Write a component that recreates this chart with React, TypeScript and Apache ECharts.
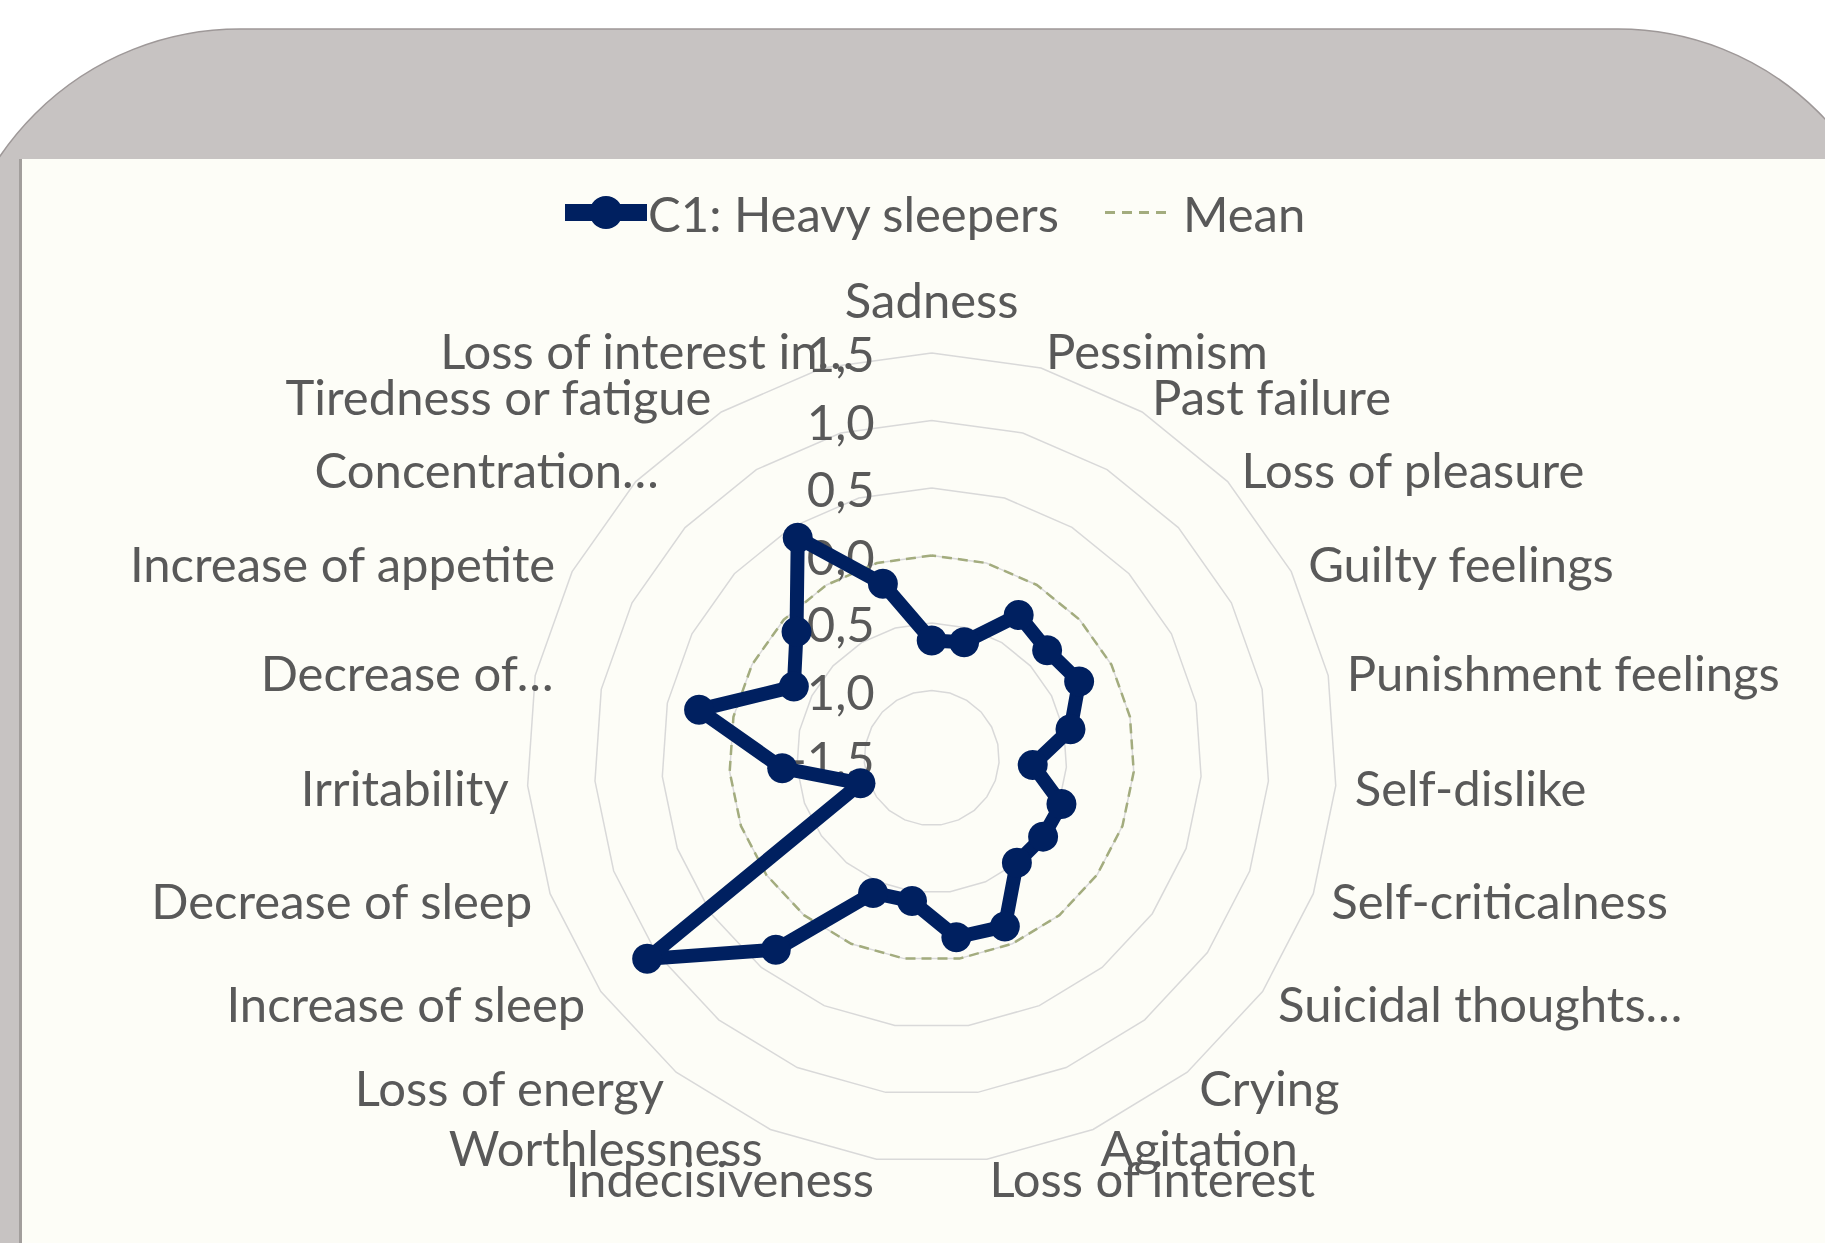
import React, { useEffect, useRef } from 'react';
import * as echarts from 'echarts';

const categories = [
  'Sadness',
  'Pessimism',
  'Past failure',
  'Loss of pleasure',
  'Guilty feelings',
  'Punishment feelings',
  'Self-dislike',
  'Self-criticalness',
  'Suicidal thoughts…',
  'Crying',
  'Agitation',
  'Loss of interest',
  'Indecisiveness',
  'Worthlessness',
  'Loss of energy',
  'Increase of sleep',
  'Decrease of sleep',
  'Irritability',
  'Decrease of…',
  'Increase of appetite',
  'Concentration…',
  'Tiredness or fatigue',
  'Loss of interest in…',
];

const heavySleepers = [
  -0.63, -0.61, -0.26, -0.33, -0.27, -0.45, -0.75, -0.48, -0.49, -0.5, -0.14, -0.16,
  -0.43, -0.41, 0.33, 1.08, -0.94, -0.39, 0.26, -0.35, -0.13, 0.41, -0.16,
];

const meanValues = [
  0, 0, 0, 0, 0, 0, 0, 0, 0, 0, 0, 0, 0, 0, 0, 0, 0, 0, 0, 0, 0, 0, 0,
];

const seriesNames = ['C1: Heavy sleepers', 'Mean'];
const axisMin = -1.5;
const axisMax = 1.5;
const splitCount = 6;

// labels whose ellipsis hangs past the anchor in the original layout
const shiftedLabels = ['Decrease of…', 'Concentration…', 'Loss of interest in…'];

export default function App() {
  const ref = useRef<HTMLDivElement>(null);

  useEffect(() => {
    document.body.style.margin = '0';
    const chart = echarts.init(ref.current as HTMLDivElement, null, { renderer: 'svg' });
    const font = 'Lato';
    const textColor = '#595959';
    const navy = '#002060';
    const olive = '#A3AC7E';

    // ECharts lays radar indicators out counter-clockwise; reorder to get clockwise
    const order = [0, ...categories.map((_, i) => i).slice(1).reverse()];

    const indicator = order.map((i, k) => {
      const ind: any = { name: categories[i], min: axisMin, max: axisMax };
      if (k === 0) {
        ind.axisLabel = { show: true, margin: 57, showMinLabel: true, showMaxLabel: true };
        ind.nameGap = 30;
      }
      if (shiftedLabels.indexOf(categories[i]) >= 0) {
        ind.nameTextStyle = { padding: [0, -37, 0, 0] };
      }
      return ind;
    });

    const textStyle = { color: textColor, fontSize: 49, fontFamily: font };

    chart.setOption({
      animation: false,
      backgroundColor: '#FFFFFF',
      graphic: {
        elements: [
          {
            type: 'rect',
            silent: true,
            z: -10,
            shape: { x: -50, y: 29, width: 1951, height: 1300, r: [290, 283, 0, 0] },
            style: { fill: '#C7C3C2', stroke: '#9E9898', lineWidth: 1.5 },
          },
          {
            type: 'rect',
            silent: true,
            z: -9,
            shape: { x: 19, y: 159, width: 5, height: 1100 },
            style: { fill: '#A29E9C' },
          },
          {
            type: 'rect',
            silent: true,
            z: -8,
            shape: { x: 22, y: 159, width: 1820, height: 1100 },
            style: { fill: '#FDFDF7' },
          },
        ],
      },
      legend: [
        {
          data: [
            {
              name: seriesNames[0],
              icon: 'path://M0,8L82,8L82,25L0,25Z M24.5,16.5A16.5,16.5 0 1,1 57.5,16.5A16.5,16.5 0 1,1 24.5,16.5Z',
              itemStyle: { color: navy, borderWidth: 0 },
            },
          ],
          left: 560,
          top: 183,
          itemWidth: 82,
          itemHeight: 33,
          selectedMode: false,
          textStyle: { ...textStyle, padding: [0, 0, 0, -4] },
        },
        {
          data: [
            {
              name: seriesNames[1],
              icon: 'path://M0,0h10v3h-10z M17,0h10v3h-10z M34,0h10v3h-10z M51,0h10v3h-10z',
              itemStyle: { color: olive, borderWidth: 0 },
            },
          ],
          left: 1100,
          top: 183,
          itemWidth: 61,
          itemHeight: 3,
          selectedMode: false,
          textStyle: { ...textStyle, padding: [0, 0, 0, 12] },
        },
      ],
      radar: {
        center: [931.7, 758],
        radius: 405,
        startAngle: 90,
        shape: 'polygon',
        splitNumber: splitCount,
        axisName: { ...textStyle },
        axisNameGap: 19,
        axisLine: { show: false },
        axisTick: { show: false },
        axisLabel: {
          show: false,
          ...textStyle,
          formatter: (v: any) => Number(v).toFixed(1).replace('.', ','),
        },
        splitLine: { lineStyle: { color: '#D9D9D9', width: 1.5 } },
        splitArea: { show: false },
        indicator,
      },
      series: [
        {
          type: 'radar',
          name: seriesNames[1],
          z: 2,
          symbol: 'none',
          lineStyle: { color: olive, width: 2.5, type: [10, 6] },
          itemStyle: { color: olive },
          data: [{ name: seriesNames[1], value: order.map((i) => meanValues[i]) }],
        },
        {
          type: 'radar',
          name: seriesNames[0],
          z: 3,
          symbol: 'circle',
          symbolSize: 30,
          lineStyle: { color: navy, width: 14, join: 'round', cap: 'round' },
          itemStyle: { color: navy },
          data: [{ name: seriesNames[0], value: order.map((i) => heavySleepers[i]) }],
        },
      ],
    });

    return () => {
      chart.dispose();
    };
  }, []);

  return (
    <div
      ref={ref}
      style={{ position: 'fixed', left: 0, top: 0, width: 1825, height: 1243 }}
    />
  );
}
